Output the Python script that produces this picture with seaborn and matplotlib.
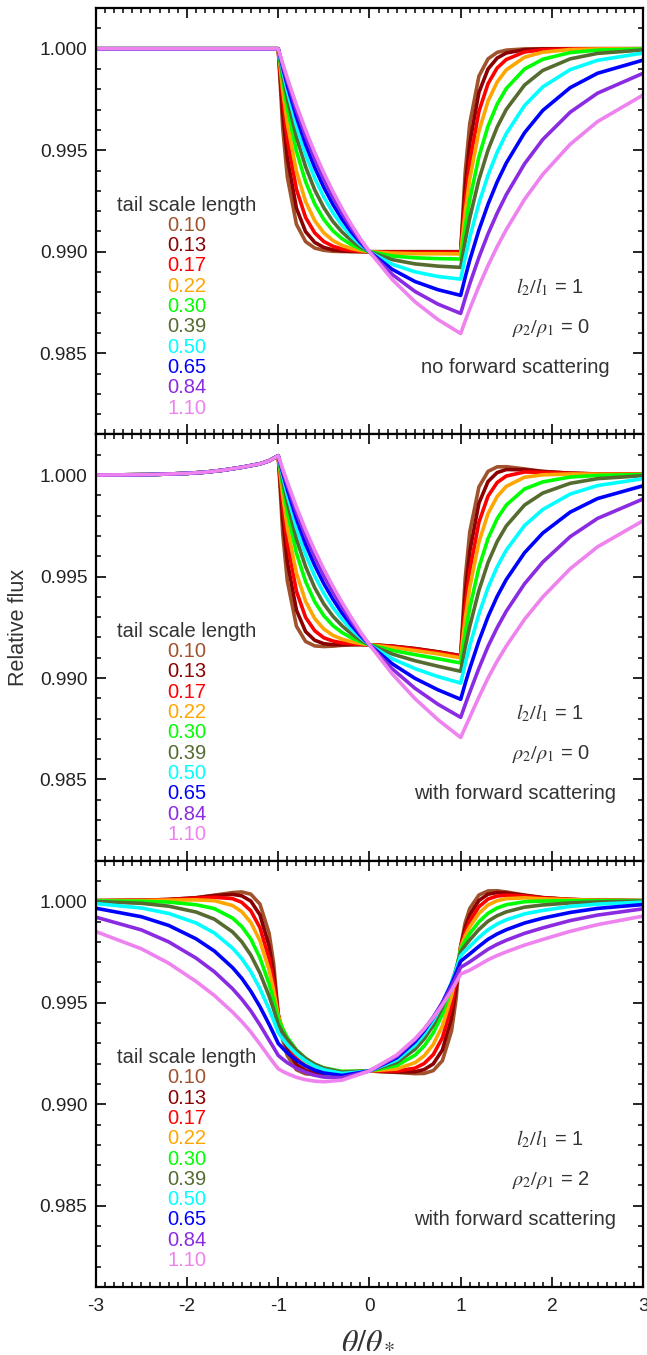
import matplotlib
matplotlib.use("Agg")
import matplotlib.pyplot as plt
from matplotlib.ticker import MultipleLocator, FormatStrFormatter
import pandas as pd
import seaborn as sns

# tail scale lengths and their line colours
tail_lengths = ["0.10", "0.13", "0.17", "0.22", "0.30", "0.39", "0.50", "0.65", "0.84", "1.10"]
tail_colors = ["#a0522d", "#8b0000", "#ff0000", "#ffa500", "#00ff00",
               "#556b2f", "#00ffff", "#0000ff", "#8a2be2", "#ee82ee"]

# ---- panel 1: l2/l1 = 1, rho2/rho1 = 0, no forward scattering ----
x1_pre = [-3.0, -1.0]
pre1 = [1.0, 1.0]
x_transit = [-0.95, -0.9, -0.8, -0.7, -0.6, -0.5, -0.4, -0.3, -0.2, -0.1, 0.0,
             0.25, 0.5, 0.75, 1.0, 1.05, 1.1, 1.2, 1.3, 1.4, 1.5, 1.7, 1.9, 2.2, 2.5, 3.0]

p1_010 = [0.99607, 0.99368, 0.99135, 0.99050, 0.99018, 0.99007, 0.99002, 0.99001, 0.99000, 0.99000, 0.99000, 0.99000, 0.99000, 0.99000, 0.99000, 0.99394, 0.99632, 0.99865, 0.99950, 0.99982, 0.99993, 0.99999, 1.00000, 1.00000, 1.00000, 1.00000]
p1_013 = [0.99681, 0.99463, 0.99214, 0.99099, 0.99046, 0.99021, 0.99009, 0.99004, 0.99002, 0.99001, 0.99000, 0.99000, 0.99000, 0.99000, 0.99000, 0.99319, 0.99536, 0.99785, 0.99900, 0.99954, 0.99979, 0.99995, 0.99999, 1.00000, 1.00000, 1.00000]
p1_017 = [0.99744, 0.99554, 0.99307, 0.99169, 0.99093, 0.99050, 0.99027, 0.99013, 0.99006, 0.99002, 0.99000, 0.98998, 0.98997, 0.98997, 0.98997, 0.99253, 0.99443, 0.99691, 0.99828, 0.99905, 0.99947, 0.99984, 0.99995, 0.99999, 1.00000, 1.00000]
p1_022 = [0.99795, 0.99631, 0.99396, 0.99248, 0.99153, 0.99093, 0.99055, 0.99031, 0.99016, 0.99006, 0.99000, 0.98993, 0.98990, 0.98990, 0.98989, 0.99195, 0.99359, 0.99593, 0.99742, 0.99836, 0.99896, 0.99958, 0.99983, 0.99996, 0.99999, 1.00000]
p1_030 = [0.99841, 0.99706, 0.99495, 0.99345, 0.99236, 0.99159, 0.99103, 0.99064, 0.99035, 0.99015, 0.99000, 0.98979, 0.98970, 0.98966, 0.98964, 0.99123, 0.99258, 0.99468, 0.99619, 0.99727, 0.99804, 0.99900, 0.99948, 0.99981, 0.99993, 0.99999]
p1_039 = [0.99870, 0.99755, 0.99565, 0.99419, 0.99305, 0.99217, 0.99149, 0.99097, 0.99056, 0.99024, 0.99000, 0.98961, 0.98940, 0.98929, 0.98923, 0.99053, 0.99167, 0.99355, 0.99501, 0.99614, 0.99701, 0.99821, 0.99893, 0.99950, 0.99977, 0.99994]
p1_050 = [0.99890, 0.99791, 0.99619, 0.99478, 0.99363, 0.99269, 0.99192, 0.99129, 0.99077, 0.99035, 0.99000, 0.98938, 0.98901, 0.98878, 0.98865, 0.98973, 0.99071, 0.99239, 0.99377, 0.99490, 0.99582, 0.99720, 0.99812, 0.99897, 0.99943, 0.99979]
p1_065 = [0.99906, 0.99818, 0.99663, 0.99529, 0.99415, 0.99317, 0.99233, 0.99160, 0.99098, 0.99045, 0.99000, 0.98913, 0.98853, 0.98813, 0.98785, 0.98875, 0.98959, 0.99107, 0.99234, 0.99344, 0.99437, 0.99586, 0.99696, 0.99808, 0.99879, 0.99944]
p1_084 = [0.99917, 0.99839, 0.99696, 0.99569, 0.99456, 0.99356, 0.99267, 0.99188, 0.99117, 0.99055, 0.99000, 0.98888, 0.98804, 0.98742, 0.98696, 0.98771, 0.98842, 0.98972, 0.99088, 0.99190, 0.99281, 0.99433, 0.99553, 0.99687, 0.99781, 0.99879]
p1_110 = [0.99926, 0.99855, 0.99722, 0.99600, 0.99489, 0.99388, 0.99296, 0.99212, 0.99135, 0.99064, 0.99000, 0.98863, 0.98753, 0.98666, 0.98597, 0.98659, 0.98719, 0.98830, 0.98932, 0.99025, 0.99109, 0.99258, 0.99381, 0.99529, 0.99641, 0.99772]

# ---- panel 2: l2/l1 = 1, rho2/rho1 = 0, with forward scattering ----
x2_pre = [-3.0, -2.4, -2.0, -1.8, -1.6, -1.4, -1.2, -1.1, -1.0]
pre2 = [1.00000, 1.00002, 1.00008, 1.00014, 1.00024, 1.00038, 1.00055, 1.00070, 1.00095]

p2_010 = [0.99710, 0.99478, 0.99255, 0.99180, 0.99158, 0.99155, 0.99157, 0.99161, 0.99163, 0.99164, 0.99164, 0.99157, 0.99145, 0.99129, 0.99110, 0.99492, 0.99720, 0.99941, 1.00018, 1.00040, 1.00041, 1.00030, 1.00018, 1.00009, 1.00005, 1.00003]
p2_013 = [0.99784, 0.99573, 0.99334, 0.99229, 0.99186, 0.99169, 0.99164, 0.99164, 0.99165, 0.99165, 0.99164, 0.99157, 0.99145, 0.99129, 0.99110, 0.99417, 0.99624, 0.99861, 0.99968, 1.00012, 1.00027, 1.00026, 1.00017, 1.00009, 1.00005, 1.00003]
p2_017 = [0.99847, 0.99664, 0.99427, 0.99299, 0.99233, 0.99198, 0.99182, 0.99173, 0.99169, 0.99166, 0.99164, 0.99155, 0.99142, 0.99126, 0.99107, 0.99351, 0.99531, 0.99767, 0.99896, 0.99963, 0.99995, 1.00015, 1.00013, 1.00008, 1.00005, 1.00003]
p2_022 = [0.99898, 0.99741, 0.99516, 0.99378, 0.99293, 0.99241, 0.99210, 0.99191, 0.99179, 0.99170, 0.99164, 0.99150, 0.99135, 0.99119, 0.99099, 0.99293, 0.99447, 0.99669, 0.99810, 0.99894, 0.99944, 0.99989, 1.00001, 1.00005, 1.00004, 1.00003]
p2_030 = [0.99944, 0.99816, 0.99615, 0.99475, 0.99376, 0.99307, 0.99258, 0.99224, 0.99198, 0.99179, 0.99164, 0.99136, 0.99115, 0.99095, 0.99074, 0.99221, 0.99346, 0.99544, 0.99687, 0.99785, 0.99852, 0.99931, 0.99966, 0.99990, 0.99998, 1.00002]
p2_039 = [0.99973, 0.99865, 0.99685, 0.99549, 0.99445, 0.99365, 0.99304, 0.99257, 0.99219, 0.99188, 0.99164, 0.99118, 0.99085, 0.99058, 0.99033, 0.99151, 0.99255, 0.99431, 0.99569, 0.99672, 0.99749, 0.99852, 0.99911, 0.99959, 0.99982, 0.99997]
p2_050 = [0.99993, 0.99901, 0.99739, 0.99608, 0.99503, 0.99417, 0.99347, 0.99289, 0.99240, 0.99199, 0.99164, 0.99095, 0.99046, 0.99007, 0.98975, 0.99071, 0.99159, 0.99315, 0.99445, 0.99548, 0.99630, 0.99751, 0.99830, 0.99906, 0.99948, 0.99982]
p2_065 = [1.00009, 0.99928, 0.99783, 0.99659, 0.99555, 0.99465, 0.99388, 0.99320, 0.99261, 0.99209, 0.99164, 0.99070, 0.98998, 0.98942, 0.98895, 0.98973, 0.99047, 0.99183, 0.99302, 0.99402, 0.99485, 0.99617, 0.99714, 0.99817, 0.99884, 0.99947]
p2_084 = [1.00020, 0.99949, 0.99816, 0.99699, 0.99596, 0.99504, 0.99422, 0.99348, 0.99280, 0.99219, 0.99164, 0.99045, 0.98949, 0.98871, 0.98806, 0.98869, 0.98930, 0.99048, 0.99156, 0.99248, 0.99329, 0.99464, 0.99571, 0.99696, 0.99786, 0.99882]
p2_110 = [1.00029, 0.99965, 0.99842, 0.99730, 0.99629, 0.99536, 0.99451, 0.99372, 0.99298, 0.99228, 0.99164, 0.99020, 0.98898, 0.98795, 0.98707, 0.98757, 0.98807, 0.98906, 0.99000, 0.99083, 0.99157, 0.99289, 0.99399, 0.99538, 0.99646, 0.99775]

# ---- panel 3: l2/l1 = 1, rho2/rho1 = 2, with forward scattering ----
x3 = [-3.0, -2.5, -2.2, -1.9, -1.7, -1.5, -1.4, -1.3, -1.2, -1.1, -1.05,
      -1.0, -0.95, -0.9, -0.8, -0.7, -0.6, -0.5, -0.3, 0.0, 0.3, 0.5, 0.6, 0.7, 0.8, 0.9, 0.95, 1.0,
      1.05, 1.1, 1.2, 1.3, 1.4, 1.5, 1.7, 1.9, 2.2, 2.5, 3.0]

p3_010 = [1.00003, 1.00005, 1.00009, 1.00018, 1.00030, 1.00043, 1.00046, 1.00035, 0.99986, 0.99843, 0.99694,
          0.99443, 0.99316, 0.99240, 0.99170, 0.99150, 0.99146, 0.99148, 0.99156, 0.99164, 0.99157, 0.99151, 0.99152, 0.99166, 0.99215, 0.99362, 0.99519, 0.99777,
          0.99896, 0.99965, 1.00031, 1.00051, 1.00052, 1.00046, 1.00031, 1.00018, 1.00009, 1.00005, 1.00003]
p3_013 = [1.00003, 1.00005, 1.00009, 1.00017, 1.00028, 1.00034, 1.00027, 1.00001, 0.99933, 0.99779, 0.99644,
          0.99443, 0.99341, 0.99271, 0.99196, 0.99166, 0.99155, 0.99153, 0.99157, 0.99164, 0.99159, 0.99160, 0.99171, 0.99199, 0.99268, 0.99426, 0.99568, 0.99777,
          0.99871, 0.99933, 1.00004, 1.00035, 1.00043, 1.00041, 1.00029, 1.00018, 1.00009, 1.00005, 1.00003]
p3_017 = [1.00003, 1.00005, 1.00008, 1.00015, 1.00020, 1.00013, 0.99995, 0.99953, 0.99870, 0.99717, 0.99600,
          0.99441, 0.99360, 0.99300, 0.99225, 0.99187, 0.99169, 0.99161, 0.99159, 0.99164, 0.99164, 0.99178, 0.99201, 0.99245, 0.99328, 0.99485, 0.99609, 0.99776,
          0.99849, 0.99902, 0.99973, 1.00011, 1.00026, 1.00030, 1.00026, 1.00016, 1.00009, 1.00005, 1.00003]
p3_022 = [1.00003, 1.00004, 1.00006, 1.00007, 1.00003, 0.99979, 0.99949, 0.99896, 0.99805, 0.99661, 0.99561,
          0.99436, 0.99372, 0.99320, 0.99250, 0.99209, 0.99184, 0.99171, 0.99161, 0.99164, 0.99174, 0.99205, 0.99239, 0.99295, 0.99386, 0.99534, 0.99640, 0.99773,
          0.99830, 0.99874, 0.99940, 0.99982, 1.00003, 1.00013, 1.00017, 1.00012, 1.00008, 1.00005, 1.00003]
p3_030 = [1.00002, 1.00000, 0.99996, 0.99983, 0.99964, 0.99917, 0.99876, 0.99814, 0.99721, 0.99593, 0.99513,
          0.99420, 0.99371, 0.99329, 0.99267, 0.99226, 0.99197, 0.99179, 0.99162, 0.99164, 0.99191, 0.99242, 0.99287, 0.99352, 0.99444, 0.99576, 0.99663, 0.99765,
          0.99806, 0.99841, 0.99899, 0.99941, 0.99967, 0.99983, 0.99998, 1.00001, 1.00003, 1.00003, 1.00003]
p3_039 = [0.99999, 0.99990, 0.99976, 0.99947, 0.99912, 0.99849, 0.99801, 0.99735, 0.99646, 0.99533, 0.99467,
          0.99392, 0.99353, 0.99319, 0.99265, 0.99226, 0.99198, 0.99178, 0.99158, 0.99164, 0.99206, 0.99271, 0.99322, 0.99389, 0.99478, 0.99595, 0.99668, 0.99751,
          0.99782, 0.99810, 0.99861, 0.99902, 0.99929, 0.99948, 0.99971, 0.99982, 0.99992, 0.99997, 1.00001]
p3_050 = [0.99989, 0.99967, 0.99940, 0.99893, 0.99844, 0.99769, 0.99718, 0.99653, 0.99569, 0.99469, 0.99413,
          0.99353, 0.99322, 0.99293, 0.99248, 0.99214, 0.99188, 0.99170, 0.99152, 0.99164, 0.99218, 0.99292, 0.99345, 0.99412, 0.99496, 0.99601, 0.99663, 0.99732,
          0.99756, 0.99778, 0.99822, 0.99860, 0.99888, 0.99909, 0.99938, 0.99955, 0.99975, 0.99986, 0.99996]
p3_065 = [0.99966, 0.99924, 0.99881, 0.99815, 0.99755, 0.99673, 0.99621, 0.99557, 0.99481, 0.99394, 0.99348,
          0.99300, 0.99276, 0.99253, 0.99217, 0.99189, 0.99168, 0.99154, 0.99142, 0.99164, 0.99229, 0.99308, 0.99362, 0.99426, 0.99502, 0.99594, 0.99648, 0.99705,
          0.99723, 0.99741, 0.99778, 0.99813, 0.99839, 0.99860, 0.99893, 0.99917, 0.99945, 0.99965, 0.99984]
p3_084 = [0.99922, 0.99859, 0.99800, 0.99720, 0.99653, 0.99569, 0.99518, 0.99460, 0.99391, 0.99316, 0.99279,
          0.99241, 0.99222, 0.99205, 0.99178, 0.99158, 0.99143, 0.99134, 0.99131, 0.99164, 0.99237, 0.99318, 0.99369, 0.99430, 0.99499, 0.99581, 0.99627, 0.99675,
          0.99688, 0.99702, 0.99733, 0.99764, 0.99788, 0.99808, 0.99842, 0.99869, 0.99905, 0.99932, 0.99963]
p3_110 = [0.99851, 0.99766, 0.99695, 0.99605, 0.99536, 0.99454, 0.99408, 0.99356, 0.99296, 0.99234, 0.99204,
          0.99175, 0.99162, 0.99151, 0.99133, 0.99121, 0.99114, 0.99111, 0.99119, 0.99164, 0.99243, 0.99323, 0.99372, 0.99427, 0.99490, 0.99561, 0.99601, 0.99642,
          0.99651, 0.99661, 0.99686, 0.99712, 0.99733, 0.99751, 0.99784, 0.99812, 0.99852, 0.99885, 0.99927]

rho_ratios = ["0", "0", "2"]
scatter_labels = ["no forward scattering", "with forward scattering", "with forward scattering"]


def long_frame(theta, series):
    parts = []
    for tail, flux in zip(tail_lengths, series):
        parts.append(pd.DataFrame({"theta": theta, "flux": flux, "tail": tail}))
    return pd.concat(parts, ignore_index=True)


frames = [
    long_frame(x1_pre + x_transit, [pre1 + s for s in (p1_010, p1_013, p1_017, p1_022, p1_030,
                                                     p1_039, p1_050, p1_065, p1_084, p1_110)]),
    long_frame(x2_pre + x_transit, [pre2 + s for s in (p2_010, p2_013, p2_017, p2_022, p2_030,
                                                     p2_039, p2_050, p2_065, p2_084, p2_110)]),
    long_frame(x3, [p3_010, p3_013, p3_017, p3_022, p3_030, p3_039, p3_050, p3_065, p3_084, p3_110]),
]

sns.set_style("ticks")
plt.rcParams["font.family"] = ["Liberation Sans", "DejaVu Sans"]
plt.rcParams["mathtext.fontset"] = "stix"
plt.rcParams["lines.solid_joinstyle"] = "round"
plt.rcParams["lines.solid_capstyle"] = "round"

fig, axes = plt.subplots(3, 1, figsize=(6.47, 13.55), dpi=100, sharex=True)
fig.subplots_adjust(left=0.148, right=0.994, top=0.994, bottom=0.0502, hspace=0)

palette = dict(zip(tail_lengths, tail_colors))

for ax, df, rho, scat in zip(axes, frames, rho_ratios, scatter_labels):
    sns.lineplot(data=df, x="theta", y="flux", hue="tail", hue_order=tail_lengths,
                 palette=palette, estimator=None, sort=False, lw=2.6, legend=False, ax=ax)

    ax.set_xlim(-3, 3)
    ax.set_ylim(0.981, 1.002)
    ax.xaxis.set_major_locator(MultipleLocator(1))
    ax.xaxis.set_minor_locator(MultipleLocator(0.1))
    ax.yaxis.set_major_locator(MultipleLocator(0.005))
    ax.yaxis.set_minor_locator(MultipleLocator(0.001))
    ax.yaxis.set_major_formatter(FormatStrFormatter("%.3f"))
    ax.tick_params(which="both", direction="in", top=True, right=True, color="black",
                   labelsize=13.8, labelcolor="#222222")
    ax.tick_params(which="major", length=7, width=1.2, pad=6)
    ax.tick_params(which="minor", length=3.5, width=1.1)
    ax.tick_params(axis="x", which="major", pad=8)
    for sp in ax.spines.values():
        sp.set_linewidth(1.6)
        sp.set_color("black")
    ax.set_xlabel("")
    ax.set_ylabel("")

    # colour key for the tail scale lengths
    ax.text(-2.0, 0.9923, "tail scale length", ha="center", va="center",
            fontsize=14.5, color="#333333")
    for i, (t, c) in enumerate(zip(tail_lengths, tail_colors)):
        ax.text(-2.0, 0.9913 - 0.001 * i, t, ha="center", va="center", fontsize=14.5, color=c)

    ax.text(1.98, 0.98827, r"$l_2/l_1$ = 1", ha="center", va="center", fontsize=14.5, color="#333333")
    ax.text(1.99, 0.98625, r"$\rho_2/\rho_1$ = " + rho, ha="center", va="center",
            fontsize=14.5, color="#333333")
    ax.text(1.595, 0.9843, scat, ha="center", va="center", fontsize=14.5, color="#333333")

axes[-1].set_xticks([-3, -2, -1, 0, 1, 2, 3])
axes[-1].set_xticklabels(["-3", "-2", "-1", "0", "1", "2", "3"])

fig.text(0.028, 0.537, "Relative flux", rotation=90, ha="center", va="center",
         fontsize=15.5, color="#333333")
fig.text(0.569, 0.011, r"$\theta/\theta_*$", ha="center", va="center", fontsize=23, color="#333333")

fig.savefig("out.png", dpi=100)
